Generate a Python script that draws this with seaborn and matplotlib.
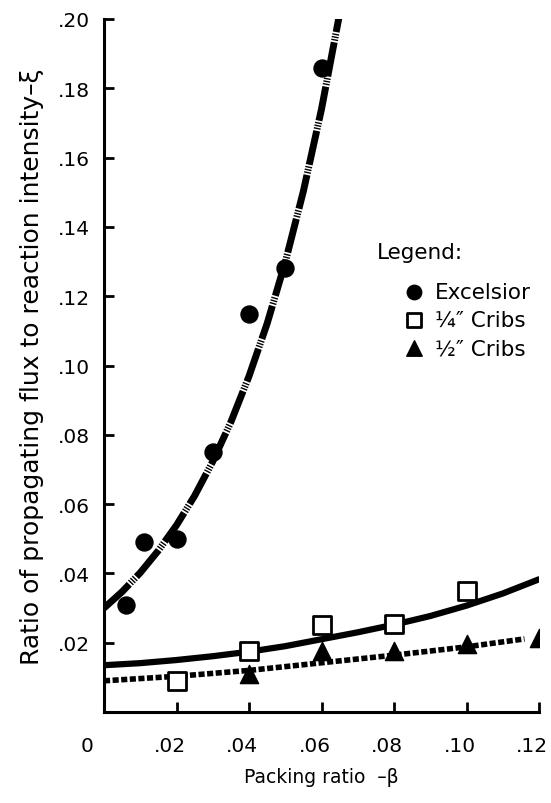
import numpy as np
import pandas as pd
import seaborn as sns
import matplotlib.pyplot as plt
from matplotlib.transforms import ScaledTranslation

sns.set_style('ticks')
plt.rcParams['font.family'] = ['DejaVu Sans']
plt.rcParams['text.color'] = 'black'
plt.rcParams['axes.labelcolor'] = 'black'

# measured points
exc_x = [0.006, 0.011, 0.020, 0.030, 0.040, 0.050, 0.060]
exc_y = [0.031, 0.049, 0.050, 0.075, 0.115, 0.128, 0.186]

quarter_x = [0.020, 0.040, 0.060, 0.080, 0.100]
quarter_y = [0.009, 0.0175, 0.025, 0.0255, 0.035]

half_x = [0.040, 0.060, 0.080, 0.100, 0.120]
half_y = [0.011, 0.0175, 0.0175, 0.0195, 0.0215]

# fitted curves
exc_curve_x = [0.0, 0.005, 0.010, 0.015, 0.020, 0.025, 0.030, 0.035, 0.040,
               0.045, 0.050, 0.055, 0.060, 0.065]
exc_curve_y = [0.0300, 0.0347, 0.0402, 0.0466, 0.0539, 0.0624, 0.0723, 0.0837,
               0.0969, 0.1121, 0.1298, 0.1503, 0.1740, 0.2015]

quarter_curve_x = [0.0, 0.01, 0.02, 0.03, 0.04, 0.05, 0.06, 0.07, 0.08, 0.09,
                   0.10, 0.11, 0.12]
quarter_curve_y = [0.0135, 0.0141, 0.0150, 0.0161, 0.0174, 0.0190, 0.0210,
                   0.0230, 0.0252, 0.0277, 0.0307, 0.0342, 0.0383]

half_curve_x = [0.0, 0.02, 0.04, 0.06, 0.08, 0.10, 0.116]
half_curve_y = [0.0090, 0.0103, 0.0120, 0.0142, 0.0164, 0.0188, 0.0211]

xticks = [0, 0.02, 0.04, 0.06, 0.08, 0.10, 0.12]
xtick_labels = ['0', '.02', '.04', '.06', '.08', '.10', '.12']
yticks = [0.02, 0.04, 0.06, 0.08, 0.10, 0.12, 0.14, 0.16, 0.18, 0.20]
ytick_labels = ['.02', '.04', '.06', '.08', '.10', '.12', '.14', '.16', '.18', '.20']

fig = plt.figure(figsize=(5.51, 8.04), dpi=100)
ax = fig.add_axes([104 / 551, 1 - 713 / 804, 435 / 551, 693 / 804])

# curves
sns.lineplot(x=exc_curve_x, y=exc_curve_y, ax=ax, color='black', lw=5,
             linestyle=(0, (5, 0.25, 0.2, 0.2, 0.2, 0.2, 0.2, 0.25)),
             solid_capstyle='butt', dash_capstyle='butt')
sns.lineplot(x=quarter_curve_x, y=quarter_curve_y, ax=ax, color='black', lw=4.5)
sns.lineplot(x=half_curve_x, y=half_curve_y, ax=ax, color='black', lw=4,
             linestyle=(0, (1.1, 0.45)), dash_capstyle='butt')

# points
sns.scatterplot(x=exc_x, y=exc_y, ax=ax, marker='o', s=150, color='black',
                edgecolor='black', zorder=4, label='Excelsior')
sns.scatterplot(x=quarter_x, y=quarter_y, ax=ax, marker='s', s=150, color='white',
                edgecolor='black', linewidth=2, zorder=4, label='\u00bc\u2033 Cribs')
sns.scatterplot(x=half_x, y=half_y, ax=ax, marker='^', s=170, color='black',
                edgecolor='black', zorder=4, label='\u00bd\u2033 Cribs')

ax.set_xlim(0, 0.12)
ax.set_ylim(0, 0.20)
ax.set_xticks(xticks)
ax.set_xticklabels(xtick_labels)
ax.set_yticks(yticks)
ax.set_yticklabels(ytick_labels)
ax.tick_params(direction='in', length=7, width=2, labelsize=14.5, colors='black')
ax.tick_params(axis='x', pad=17)
ax.tick_params(axis='y', pad=10)
sns.despine(ax=ax)
for side in ['left', 'bottom']:
    ax.spines[side].set_linewidth(2.2)
    ax.spines[side].set_color('black')

# the printed x labels sit a little left of their ticks
for i, lab in enumerate(ax.get_xticklabels()):
    dx = -12 if i == 0 else -5
    lab.set_transform(lab.get_transform() + ScaledTranslation(dx / 72, 0, fig.dpi_scale_trans))

ax.set_xlabel('Packing ratio  \u2013\u03b2', fontsize=13.5, labelpad=9)
ax.set_ylabel('Ratio of propagating flux to reaction intensity\u2013\u03be',
              fontsize=18, labelpad=10)

ax.text(0.628, 0.664, 'Legend:', transform=ax.transAxes, fontsize=15.5, va='center')
ax.legend(loc='upper left', bbox_to_anchor=(0.687, 0.621), frameon=False,
          fontsize=15.5, handlelength=1, handletextpad=0.5, borderpad=0,
          borderaxespad=0, labelspacing=0.38, markerscale=0.85)

fig.savefig('out.png', dpi=100)
